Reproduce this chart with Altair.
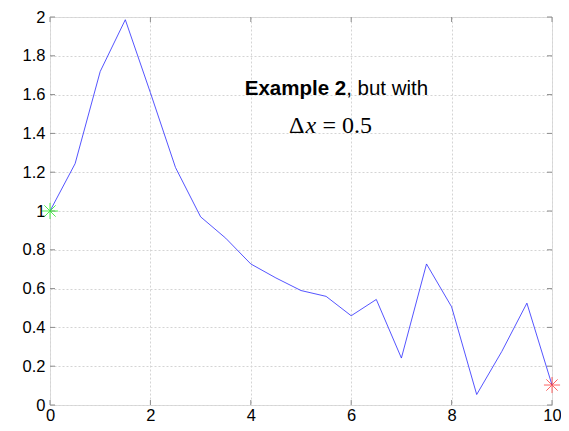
import altair as alt
import pandas as pd

xs = [0, 0.5, 1, 1.5, 2, 2.5, 3, 3.5, 4, 4.5, 5, 5.5, 6, 6.5, 7, 7.5, 8, 8.5, 9, 9.5, 10]
ys = [1.0, 1.244, 1.719, 1.986, 1.61, 1.224, 0.97, 0.86, 0.727, 0.655, 0.59, 0.56,
      0.46, 0.544, 0.242, 0.727, 0.506, 0.054, 0.276, 0.525, 0.103]

x_ticks = [0, 2, 4, 6, 8, 10]
y_ticks = [0, 0.2, 0.4, 0.6, 0.8, 1, 1.2, 1.4, 1.6, 1.8, 2]

start_pt = {"x": [0], "y": [1.0]}
end_pt = {"x": [10], "y": [0.103]}

W, H = 502, 388
XMAX, YMAX = 10, 2
TL = 5  # tick length px

df = pd.DataFrame({"x": xs, "y": ys})
xsc = alt.Scale(domain=[0, XMAX], nice=False, zero=False)
ysc = alt.Scale(domain=[0, YMAX], nice=False, zero=False)

FONT = "Liberation Sans"
grid_axis_x = alt.Axis(values=x_ticks, format=".1~f", title=None, labelFontSize=16.5,
                       labelFont=FONT, labelColor="black", ticks=False, domain=False,
                       grid=True, gridColor="#d4d4d4", gridDash=[2, 2], labelPadding=2,
                       labelOverlap=False, labelFlush=False)
grid_axis_y = alt.Axis(values=y_ticks, format=".1~f", title=None, labelFontSize=16.5,
                       labelFont=FONT, labelColor="black", ticks=False, domain=False,
                       grid=True, gridColor="#d4d4d4", gridDash=[2, 2], labelPadding=5,
                       labelOverlap=False, labelFlush=False)

def X(f):
    return alt.X(f, scale=xsc, axis=grid_axis_x, title=None)

def Y(f):
    return alt.Y(f, scale=ysc, axis=grid_axis_y, title=None)

line = alt.Chart(df).mark_line(color="#2b2bff", strokeWidth=1, opacity=0.8).encode(
    x=X("x:Q"), y=Y("y:Q"),
)

star = "M-1,0L1,0M0,-1L0,1M-0.7,-0.7L0.7,0.7M-0.7,0.7L0.7,-0.7"
p_start = alt.Chart(pd.DataFrame(start_pt)).mark_point(
    shape=star, size=260, color="#22ee22", strokeWidth=1, filled=False, opacity=0.8
).encode(x=X("x:Q"), y=Y("y:Q"))
p_end = alt.Chart(pd.DataFrame(end_pt)).mark_point(
    shape=star, size=260, color="#ff2222", strokeWidth=1, filled=False, opacity=0.7
).encode(x=X("x:Q"), y=Y("y:Q"))

tick_color = "#8c8c8c"
dy = YMAX * TL / H
dx = XMAX * TL / W
bx = pd.DataFrame({"x": x_ticks, "y0": [0] * len(x_ticks), "y1": [dy] * len(x_ticks)})
tx = pd.DataFrame({"x": x_ticks, "y0": [YMAX] * len(x_ticks), "y1": [YMAX - dy] * len(x_ticks)})
ly = pd.DataFrame({"y": y_ticks, "x0": [0] * len(y_ticks), "x1": [dx] * len(y_ticks)})
ry = pd.DataFrame({"y": y_ticks, "x0": [XMAX] * len(y_ticks), "x1": [XMAX - dx] * len(y_ticks)})

def vt(d):
    return alt.Chart(d).mark_rule(color=tick_color, strokeWidth=1).encode(
        x=X("x:Q"), y=Y("y0:Q"), y2="y1:Q")

def ht(d):
    return alt.Chart(d).mark_rule(color=tick_color, strokeWidth=1).encode(
        y=Y("y:Q"), x=X("x0:Q"), x2="x1:Q")

ticks = vt(bx) + vt(tx) + ht(ly) + ht(ry)

def txt(xv, yv, s, align="left", **kw):
    return alt.Chart(pd.DataFrame({"x": [xv], "y": [yv], "t": [s]})).mark_text(
        align=align, baseline="alphabetic", color="black", **kw
    ).encode(x=X("x:Q"), y=Y("y:Q"), text="t:N")

t1 = txt(5.9, 1.597, "Example 2", align="right", font=FONT, fontSize=20.5, fontWeight="bold")
t2 = txt(5.9, 1.597, ", but with", font=FONT, fontSize=20.5)
t3 = txt(4.761, 1.404, "Δ", font="Liberation Serif", fontSize=24)
t4 = txt(5.09, 1.404, "x", font="Liberation Serif", fontSize=24, fontStyle="italic")
t5 = txt(5.43, 1.404, "= 0.5", font="Liberation Serif", fontSize=24)

chart = alt.layer(line, ticks, p_start, p_end, t1, t2, t3, t4, t5).properties(
    width=W, height=H,
    autosize=alt.AutoSizeParams(type="none"),
    padding={"left": 42, "top": 9, "right": 9, "bottom": 18},
).configure_view(stroke="#8c8c8c", strokeWidth=1).configure(background="white")

chart.save("out.html", embed_options={"renderer": "svg", "actions": False})
